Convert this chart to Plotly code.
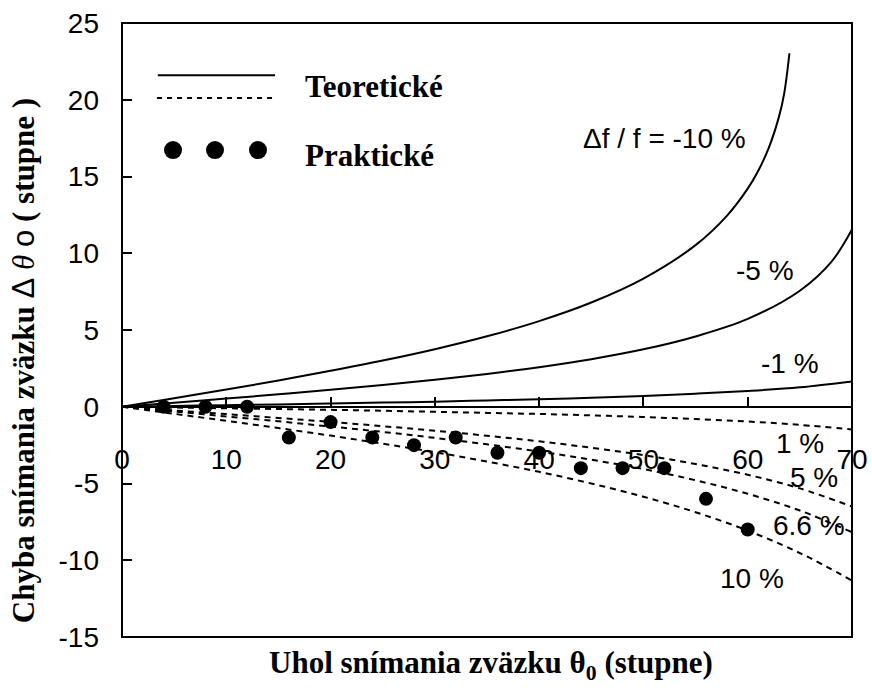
import plotly.graph_objects as go

# Angle grid (degrees) shared by most theoretical curves
theta = [0, 5, 10, 15, 20, 25, 30, 35, 40, 45, 50, 55, 60, 65, 70]

# Theoretical error, focal deviation df/f = -10 % (curve ends near 64 deg)
neg10_x = [0, 5, 10, 15, 20, 25, 30, 35, 40, 45, 50, 55, 58, 60, 61, 62, 63, 63.5, 64]
neg10_y = [0, 0.56, 1.12, 1.71, 2.34, 3.01, 3.75, 4.59, 5.58, 6.79, 8.35,
           10.53, 12.44, 14.21, 15.36, 16.83, 18.90, 20.42, 23.03]

# df/f = -5 %
neg5_x = [0, 5, 10, 15, 20, 25, 30, 35, 40, 45, 50, 55, 60, 65, 68, 70]
neg5_y = [0, 0.26, 0.53, 0.81, 1.10, 1.42, 1.76, 2.14, 2.58, 3.10, 3.74,
          4.58, 5.72, 7.56, 9.42, 11.55]

# df/f = -1 %
neg1_y = [0, 0.05, 0.10, 0.15, 0.21, 0.27, 0.33, 0.41, 0.49, 0.58, 0.70,
          0.85, 1.03, 1.27, 1.65]

# df/f = +1 %, +5 %, +6.6 %, +10 % (dashed)
pos1_y = [0, -0.05, -0.10, -0.15, -0.20, -0.26, -0.33, -0.40, -0.47, -0.56,
          -0.67, -0.80, -0.96, -1.18, -1.48]
pos5_y = [0, -0.24, -0.48, -0.73, -0.99, -1.27, -1.56, -1.89, -2.25, -2.67,
          -3.15, -3.73, -4.43, -5.32, -6.50]
pos66_y = [0, -0.31, -0.63, -0.95, -1.29, -1.64, -2.03, -2.45, -2.92, -3.45,
           -4.06, -4.79, -5.67, -6.76, -8.18]
pos10_y = [0, -0.46, -0.92, -1.39, -1.88, -2.41, -2.96, -3.57, -4.24, -5.00,
           -5.86, -6.87, -8.07, -9.53, -11.32]

# Measured (practical) errors
prak_x = [4, 8, 12, 16, 20, 24, 28, 32, 36, 40, 44, 48, 52, 56, 60]
prak_y = [0, 0, 0, -2, -1, -2, -2.5, -2, -3, -3, -4, -4, -4, -6, -8]

# Tick values and labels (plain hyphen as minus sign)
x_ticks = [0, 10, 20, 30, 40, 50, 60, 70]
y_ticks = [-15, -10, -5, 0, 5, 10, 15, 20, 25]
y_tick_labels = ["-15", "-10", "-5", "0", "5", "10", "15", "20", "25"]

# Curve labels: (text, x, y)
curve_labels = [
    ("Δf / f = -10 %", 52.0, 17.5),
    ("-5 %", 61.7, 8.9),
    ("-1 %", 64.1, 2.8),
    ("1 %", 65.0, -2.4),
    ("5 %", 66.4, -4.6),
    ("6.6 %", 65.9, -7.75),
    ("10 %", 60.4, -11.2),
]

SANS = "Liberation Sans"
SERIF = "Liberation Serif"
BLACK = "#000000"

fig = go.Figure()

solid = dict(color=BLACK, width=2)
dashed = dict(color=BLACK, width=2, dash="6px,5px")

fig.add_trace(go.Scatter(x=neg10_x, y=neg10_y, mode="lines", line=solid, line_shape="spline"))
fig.add_trace(go.Scatter(x=neg5_x, y=neg5_y, mode="lines", line=solid, line_shape="spline"))
fig.add_trace(go.Scatter(x=theta, y=neg1_y, mode="lines", line=solid, line_shape="spline"))
for ys in (pos1_y, pos5_y, pos66_y, pos10_y):
    fig.add_trace(go.Scatter(x=theta, y=ys, mode="lines", line=dashed, line_shape="spline"))

fig.add_trace(go.Scatter(x=prak_x, y=prak_y, mode="markers",
                         marker=dict(color=BLACK, size=14, line=dict(width=0))))

for text, lx, ly in curve_labels:
    fig.add_annotation(x=lx, y=ly, text=text, showarrow=False,
                       font=dict(family=SANS, size=28, color=BLACK),
                       xanchor="center", yanchor="middle")

# Frame around the plotting area
fig.add_shape(type="rect", xref="x domain", yref="y domain", x0=0, x1=1, y0=0, y1=1,
              line=dict(color=BLACK, width=2), layer="above")

# Hand-drawn key in the upper-left corner
fig.add_shape(type="line", xref="x domain", yref="y domain",
              x0=0.049, x1=0.2096, y0=0.915, y1=0.915, line=dict(color=BLACK, width=2))
fig.add_shape(type="line", xref="x domain", yref="y domain",
              x0=0.048, x1=0.207, y0=0.878, y1=0.878,
              line=dict(color=BLACK, width=2, dash="5px,5px"))
for cx in (0.0699, 0.1274, 0.1863):
    fig.add_shape(type="circle", xref="x domain", yref="y domain",
                  xsizemode="pixel", ysizemode="pixel", xanchor=cx, yanchor=0.793,
                  x0=-9, x1=9, y0=-9, y1=9, fillcolor=BLACK, line=dict(width=0))

key_font = dict(family=SERIF, size=31, color=BLACK, weight="bold")
fig.add_annotation(xref="x domain", yref="y domain", x=0.248, y=0.896, text="Teoretické",
                   showarrow=False, xanchor="left", yanchor="middle", font=key_font)
fig.add_annotation(xref="x domain", yref="y domain", x=0.248, y=0.785, text="Praktické",
                   showarrow=False, xanchor="left", yanchor="middle", font=key_font)

# Axis titles
title_font = dict(family=SERIF, size=31, color=BLACK, weight="bold")
fig.add_annotation(xref="paper", yref="paper", x=0.505, y=-0.045,
                   text="Uhol snímania zväzku θ<sub>0</sub> (stupne)",
                   showarrow=False, xanchor="center", yanchor="middle", font=title_font)
fig.add_annotation(xref="paper", yref="paper", x=-0.135, y=0.45, textangle=-90,
                   text=("Chyba snímania zväzku "
                         "<span style='font-family:Liberation Sans;font-weight:normal'>Δ</span> "
                         "<span style='font-weight:normal'><i>θ</i></span> "
                         "<span style='font-family:Liberation Sans;font-weight:normal'>o</span>"
                         " ( stupne )"),
                   showarrow=False, xanchor="center", yanchor="middle", font=title_font)

tick_font = dict(family=SANS, size=28, color=BLACK)

fig.update_xaxes(range=[0, 70], tickvals=x_ticks, ticks="inside", ticklen=9, tickwidth=1.5,
                 tickcolor=BLACK, showline=True, linewidth=1.5, linecolor=BLACK,
                 anchor="free", position=0.375, showgrid=False, zeroline=False,
                 tickfont=tick_font, ticklabelstandoff=28, automargin=False)
fig.update_yaxes(range=[-15, 25], tickvals=y_ticks, ticktext=y_tick_labels,
                 ticks="inside", ticklen=10, tickwidth=1.5,
                 tickcolor=BLACK, showline=False, showgrid=False, zeroline=False,
                 tickfont=tick_font, ticklabelstandoff=22, automargin=False)

fig.update_layout(width=872, height=688, showlegend=False,
                  margin=dict(l=122, r=20, t=23, b=51, autoexpand=False),
                  paper_bgcolor="white", plot_bgcolor="white")

fig.write_html("out.html")
